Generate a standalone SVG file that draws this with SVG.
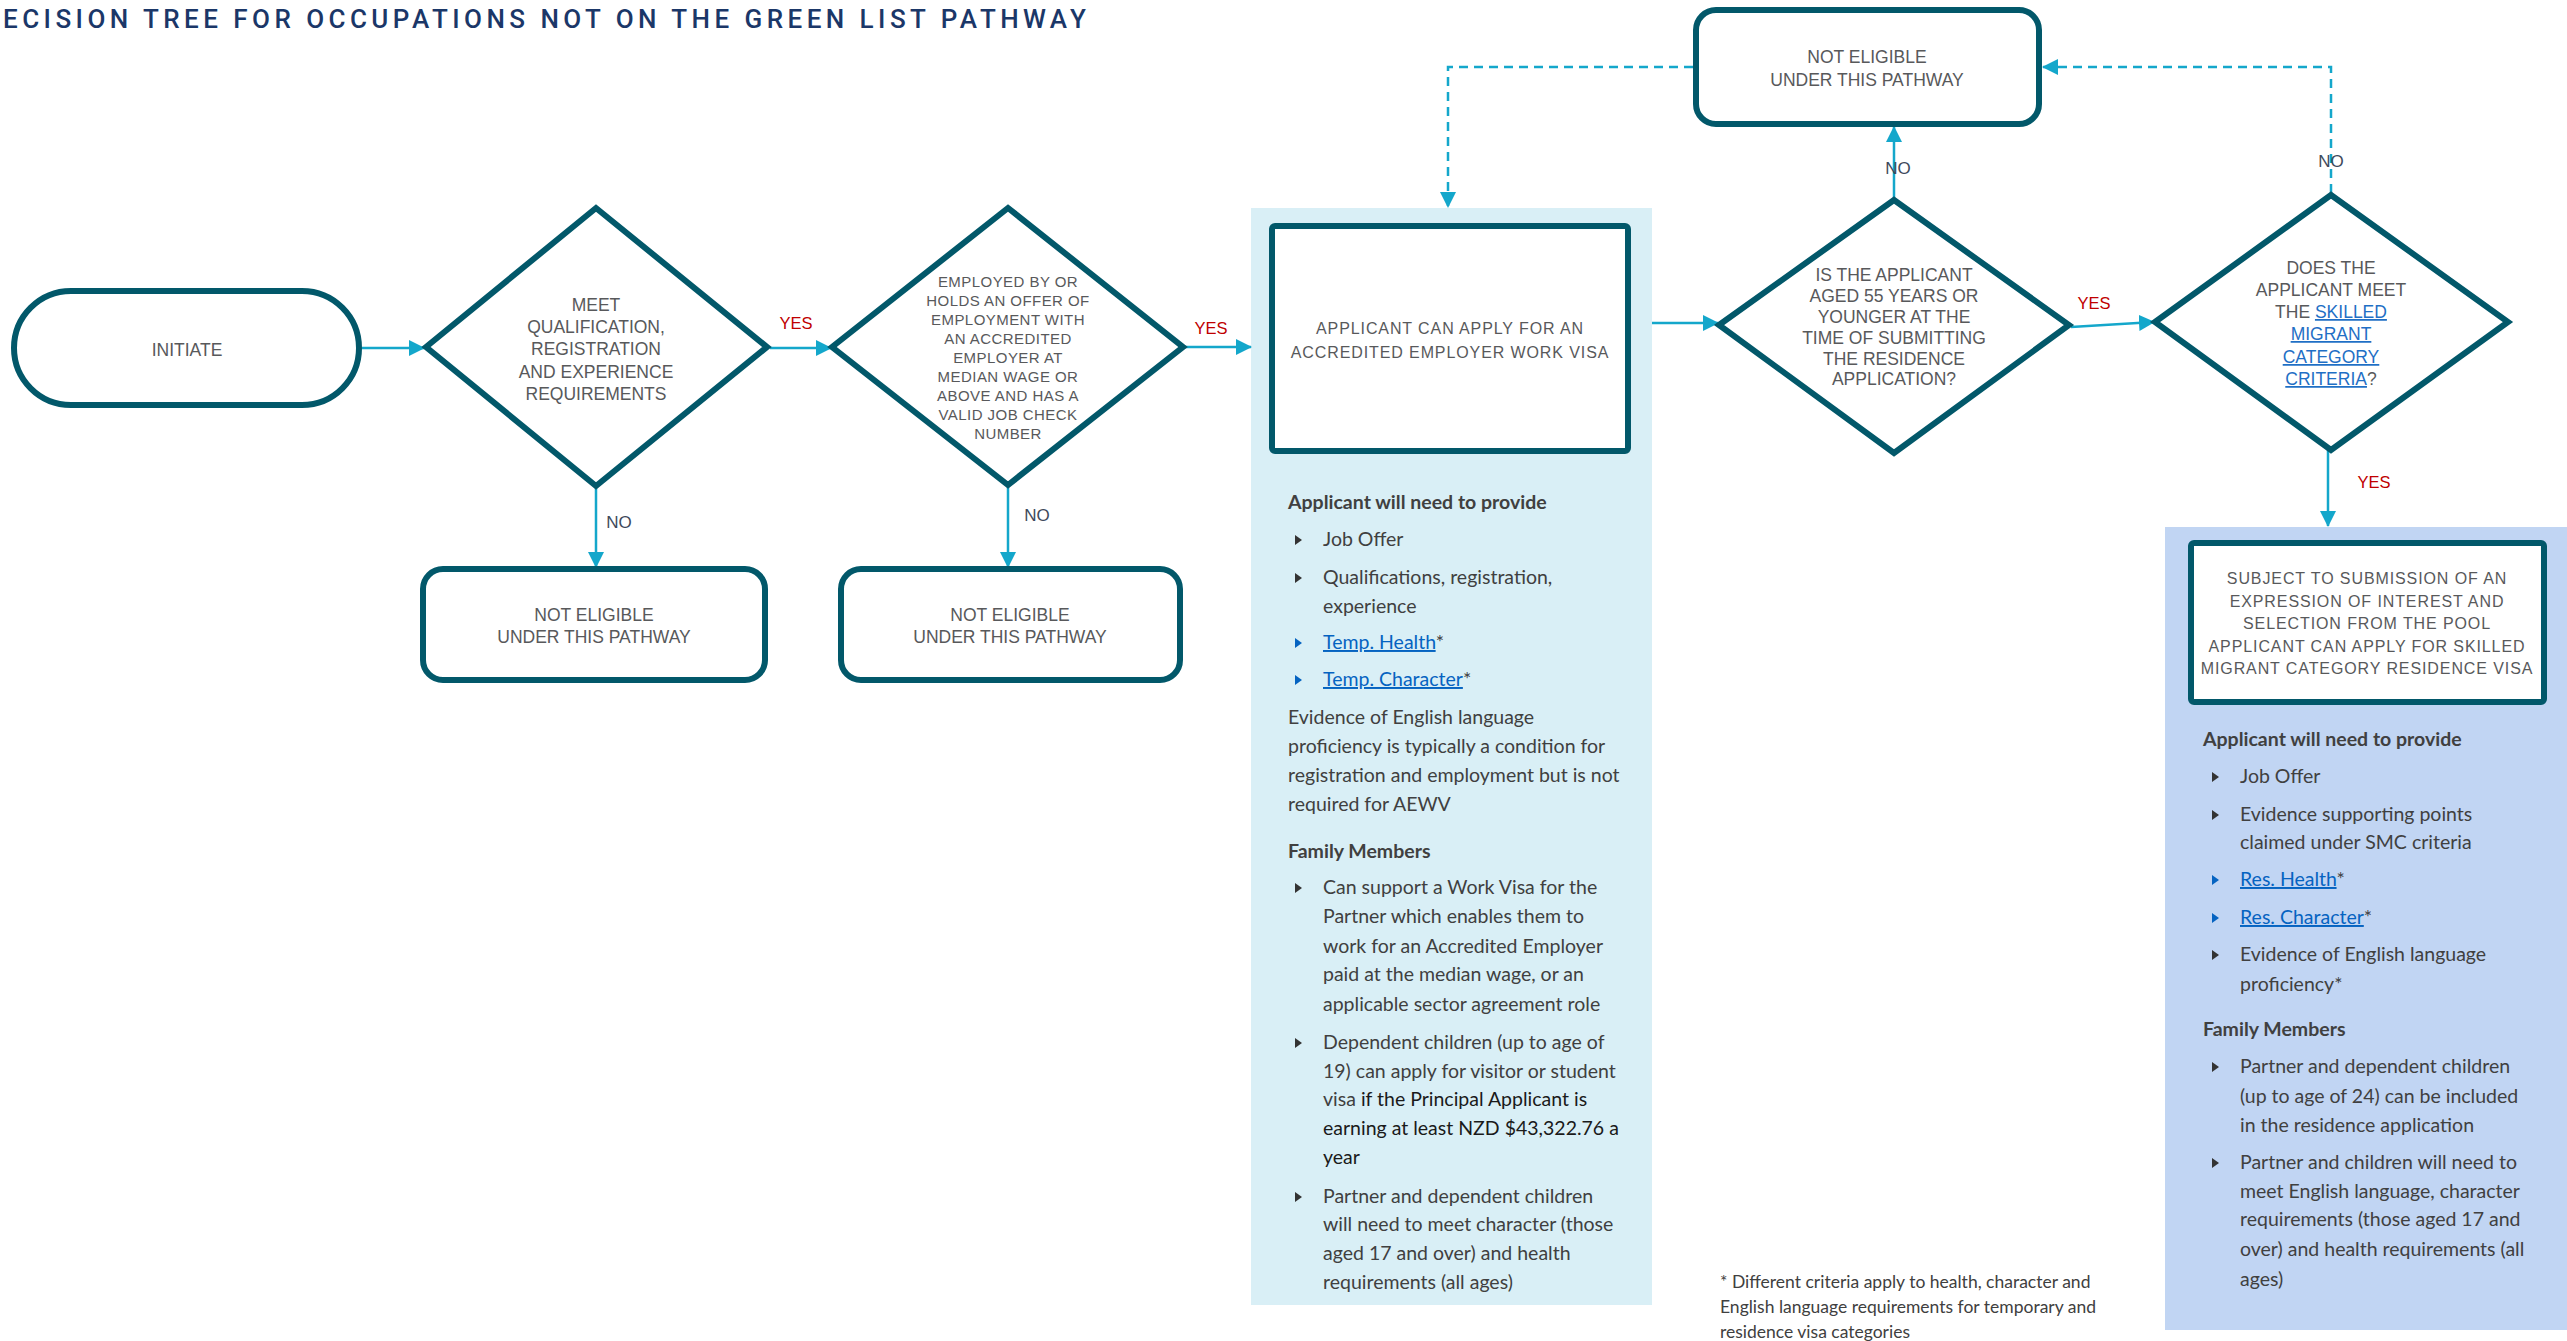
<svg xmlns="http://www.w3.org/2000/svg" width="2567" height="1341" viewBox="0 0 2567 1341">
<style>
.node{fill:#fff;stroke:#02586a;stroke-width:6;stroke-linejoin:miter}
.lbl{font-family:"Liberation Sans",Arial,sans-serif;font-size:17.5px;fill:#58595b;text-anchor:middle}
.wide{font-family:"Liberation Sans",Arial,sans-serif;font-size:15px;fill:#58595b;text-anchor:middle;letter-spacing:0.45px}
.wide16{font-family:"Liberation Sans",Arial,sans-serif;font-size:16px;fill:#58595b;text-anchor:middle;letter-spacing:0.9px}
.conn{fill:none;stroke:#14a7cb;stroke-width:2.5}
.dash{fill:none;stroke:#14a7cb;stroke-width:2.5;stroke-dasharray:9 6}
.yes{font-family:"Liberation Sans",Arial,sans-serif;font-size:16.5px;fill:#c00000;text-anchor:middle}
.no{font-family:"Liberation Sans",Arial,sans-serif;font-size:17px;fill:#3d4a5c;text-anchor:middle}
.body{font-family:Lato,"Open Sans",sans-serif;font-size:19.5px;fill:#404040}
.bold{font-weight:bold}
.link{fill:#0563c1;text-decoration:underline}
.blink{fill:#1f6fc5;text-decoration:underline}
.dark{fill:#1a1a1a}
.foot{font-family:Lato,"Open Sans",sans-serif;font-size:17.5px;fill:#404040}
.bul{fill:#333}
.bulb{fill:#0563c1}
</style>
<defs>
<marker id="ah" markerUnits="userSpaceOnUse" markerWidth="16" markerHeight="16" refX="15" refY="8" orient="auto">
<path d="M0,0 L16,8 L0,16 Z" fill="#14a7cb"/>
</marker>
</defs>

<text id="title" x="3" y="28" font-family="Roboto,'Liberation Sans',sans-serif" font-weight="500" font-size="26" fill="#1b3768" textLength="1083" lengthAdjust="spacing">ECISION TREE FOR OCCUPATIONS NOT ON THE GREEN LIST PATHWAY</text>

<rect id="panel-work" x="1251" y="208" width="401" height="1097" fill="#d9eff6"/>
<rect id="panel-res" x="2165" y="527" width="402" height="803" fill="#c1d5f3"/>

<g id="connectors">
<line class="conn" x1="362" y1="348" x2="424" y2="348" marker-end="url(#ah)"/>
<line class="conn" x1="770" y1="348" x2="831" y2="348" marker-end="url(#ah)"/>
<line class="conn" x1="1185" y1="347" x2="1251" y2="347" marker-end="url(#ah)"/>
<line class="conn" x1="596" y1="488" x2="596" y2="567" marker-end="url(#ah)"/>
<line class="conn" x1="1008" y1="487" x2="1008" y2="567" marker-end="url(#ah)"/>
<line class="conn" x1="1652" y1="323" x2="1718" y2="323" marker-end="url(#ah)"/>
<line class="conn" x1="1894" y1="198" x2="1894" y2="127" marker-end="url(#ah)"/>
<line class="conn" x1="2071" y1="327" x2="2154" y2="322" marker-end="url(#ah)"/>
<line class="conn" x1="2328" y1="450" x2="2328" y2="526" marker-end="url(#ah)"/>
<polyline class="dash" points="1693,67 1448,67 1448,207" marker-end="url(#ah)"/>
<polyline class="dash" points="2331,193 2331,67 2043,67" marker-end="url(#ah)"/>
<text class="yes" x="796" y="329">YES</text>
<text class="yes" x="1211" y="334">YES</text>
<text class="yes" x="2094" y="309">YES</text>
<text class="yes" x="2374" y="488">YES</text>
<text class="no" x="619" y="528">NO</text>
<text class="no" x="1037" y="521">NO</text>
<text class="no" x="1898" y="174">NO</text>
<text class="no" x="2331" y="167">NO</text>
</g>

<g id="initiate">
<rect class="node" x="14" y="291" width="345" height="114" rx="57"/>
<text class="lbl" x="187" y="356">INITIATE</text>
</g>

<g id="q-qualification">
<polygon class="node" points="426,347 596,208 767,347 596,486"/>
<text class="lbl" x="596" y="311">MEET</text>
<text class="lbl" x="596" y="333">QUALIFICATION,</text>
<text class="lbl" x="596" y="355">REGISTRATION</text>
<text class="lbl" x="596" y="378">AND EXPERIENCE</text>
<text class="lbl" x="596" y="400">REQUIREMENTS</text>
</g>

<g id="q-employed">
<polygon class="node" points="832,347 1008,208 1183,347 1008,485"/>
<text class="wide" x="1008" y="287">EMPLOYED BY OR</text>
<text class="wide" x="1008" y="306">HOLDS AN OFFER OF</text>
<text class="wide" x="1008" y="325">EMPLOYMENT WITH</text>
<text class="wide" x="1008" y="344">AN ACCREDITED</text>
<text class="wide" x="1008" y="363">EMPLOYER  AT</text>
<text class="wide" x="1008" y="382">MEDIAN WAGE OR</text>
<text class="wide" x="1008" y="401">ABOVE AND HAS A</text>
<text class="wide" x="1008" y="420">VALID JOB CHECK</text>
<text class="wide" x="1008" y="439">NUMBER</text>
</g>

<g id="not-eligible-1">
<rect class="node" x="423" y="569" width="342" height="111" rx="20"/>
<text class="lbl" x="594" y="621">NOT ELIGIBLE</text>
<text class="lbl" x="594" y="643">UNDER THIS PATHWAY</text>
</g>

<g id="not-eligible-2">
<rect class="node" x="841" y="569" width="339" height="111" rx="20"/>
<text class="lbl" x="1010" y="621">NOT ELIGIBLE</text>
<text class="lbl" x="1010" y="643">UNDER THIS PATHWAY</text>
</g>

<g id="aewv">
<rect class="node" x="1272" y="226" width="356" height="225" rx="3"/>
<text class="wide16" x="1450" y="334">APPLICANT CAN APPLY FOR AN</text>
<text class="wide16" x="1450" y="358">ACCREDITED EMPLOYER WORK VISA</text>
</g>

<g id="aewv-details">
<text class="body bold" x="1288" y="509">Applicant will need to provide</text>
<path class="bul" d="M1295,535 L1302,540 L1295,545 Z"/>
<text class="body" x="1323" y="546">Job Offer</text>
<path class="bul" d="M1295,573 L1302,578 L1295,583 Z"/>
<text class="body" x="1323" y="584">Qualifications, registration,</text>
<text class="body" x="1323" y="613">experience</text>
<path class="bulb" d="M1295,638 L1302,643 L1295,648 Z"/>
<text class="body" x="1323" y="649"><tspan class="link">Temp. Health</tspan>*</text>
<path class="bulb" d="M1295,675 L1302,680 L1295,685 Z"/>
<text class="body" x="1323" y="686"><tspan class="link">Temp. Character</tspan>*</text>
<text class="body" x="1288" y="724">Evidence of English language</text>
<text class="body" x="1288" y="753">proficiency is typically a condition for</text>
<text class="body" x="1288" y="782">registration and employment but is not</text>
<text class="body" x="1288" y="811">required for AEWV</text>
<text class="body bold" x="1288" y="858">Family Members</text>
<path class="bul" d="M1295,883 L1302,888 L1295,893 Z"/>
<text class="body" x="1323" y="894">Can support a Work Visa for the</text>
<text class="body" x="1323" y="923">Partner which enables them to</text>
<text class="body" x="1323" y="953">work for an Accredited Employer</text>
<text class="body" x="1323" y="981">paid at the median wage, or an</text>
<text class="body" x="1323" y="1011">applicable sector agreement role</text>
<path class="bul" d="M1295,1038 L1302,1043 L1295,1048 Z"/>
<text class="body" x="1323" y="1049">Dependent children (up to  age of</text>
<text class="body" x="1323" y="1078">19) can apply for visitor or student</text>
<text class="body" x="1323" y="1106">visa <tspan class="dark">if the Principal Applicant is</tspan></text>
<text class="body dark" x="1323" y="1135">earning at least NZD $43,322.76 a</text>
<text class="body dark" x="1323" y="1164">year</text>
<path class="bul" d="M1295,1192 L1302,1197 L1295,1202 Z"/>
<text class="body" x="1323" y="1203">Partner and dependent children</text>
<text class="body" x="1323" y="1231">will need to meet character (those</text>
<text class="body" x="1323" y="1260">aged 17 and over) and health</text>
<text class="body" x="1323" y="1289">requirements (all ages)</text>
</g>

<g id="not-eligible-3">
<rect class="node" x="1696" y="10" width="343" height="114" rx="20"/>
<text class="lbl" x="1867" y="63">NOT ELIGIBLE</text>
<text class="lbl" x="1867" y="86">UNDER THIS PATHWAY</text>
</g>

<g id="q-age">
<polygon class="node" points="1719,325 1894,200 2069,325 1894,453"/>
<text class="lbl" x="1894" y="281" font-size="17">IS THE APPLICANT</text>
<text class="lbl" x="1894" y="302" font-size="17">AGED 55 YEARS OR</text>
<text class="lbl" x="1894" y="323" font-size="17">YOUNGER AT THE</text>
<text class="lbl" x="1894" y="344" font-size="17">TIME OF SUBMITTING</text>
<text class="lbl" x="1894" y="365" font-size="17">THE RESIDENCE</text>
<text class="lbl" x="1894" y="385" font-size="17">APPLICATION?</text>
</g>

<g id="q-smc">
<polygon class="node" points="2155,322 2331,195 2508,322 2331,450"/>
<text class="lbl" x="2331" y="274">DOES THE</text>
<text class="lbl" x="2331" y="296">APPLICANT MEET</text>
<text class="lbl" x="2331" y="318">THE <tspan class="blink">SKILLED</tspan></text>
<text class="lbl" x="2331" y="340"><tspan class="blink">MIGRANT</tspan></text>
<text class="lbl" x="2331" y="363"><tspan class="blink">CATEGORY</tspan></text>
<text class="lbl" x="2331" y="385"><tspan class="blink">CRITERIA</tspan>?</text>
</g>

<g id="smc-residence">
<rect class="node" x="2191" y="543" width="353" height="159" rx="3"/>
<text class="wide16" x="2367" y="584">SUBJECT TO SUBMISSION OF AN</text>
<text class="wide16" x="2367" y="607">EXPRESSION OF INTEREST AND</text>
<text class="wide16" x="2367" y="629">SELECTION FROM THE POOL</text>
<text class="wide16" x="2367" y="652">APPLICANT CAN APPLY FOR SKILLED</text>
<text class="wide16" x="2367" y="674">MIGRANT CATEGORY RESIDENCE VISA</text>
</g>

<g id="smc-details">
<text class="body bold" x="2203" y="746">Applicant will need to provide</text>
<path class="bul" d="M2212,772 L2219,777 L2212,782 Z"/>
<text class="body" x="2240" y="783">Job Offer</text>
<path class="bul" d="M2212,810 L2219,815 L2212,820 Z"/>
<text class="body" x="2240" y="821">Evidence supporting points</text>
<text class="body" x="2240" y="849">claimed under SMC criteria</text>
<path class="bulb" d="M2212,875 L2219,880 L2212,885 Z"/>
<text class="body" x="2240" y="886"><tspan class="link">Res. Health</tspan>*</text>
<path class="bulb" d="M2212,913 L2219,918 L2212,923 Z"/>
<text class="body" x="2240" y="924"><tspan class="link">Res. Character</tspan>*</text>
<path class="bul" d="M2212,950 L2219,955 L2212,960 Z"/>
<text class="body" x="2240" y="961">Evidence of English language</text>
<text class="body" x="2240" y="991">proficiency*</text>
<text class="body bold" x="2203" y="1036">Family Members</text>
<path class="bul" d="M2212,1062 L2219,1067 L2212,1072 Z"/>
<text class="body" x="2240" y="1073">Partner and dependent children</text>
<text class="body" x="2240" y="1103">(up to  age of 24) can be included</text>
<text class="body" x="2240" y="1132">in the residence application</text>
<path class="bul" d="M2212,1158 L2219,1163 L2212,1168 Z"/>
<text class="body" x="2240" y="1169">Partner and children will need to</text>
<text class="body" x="2240" y="1198">meet English language, character</text>
<text class="body" x="2240" y="1226">requirements (those aged 17 and</text>
<text class="body" x="2240" y="1256">over) and health requirements (all</text>
<text class="body" x="2240" y="1286">ages)</text>
</g>

<g id="footnote">
<text class="foot" x="1720" y="1288">* Different criteria apply to health, character and</text>
<text class="foot" x="1720" y="1313">English language requirements for temporary and</text>
<text class="foot" x="1720" y="1338">residence visa categories</text>
</g>
</svg>
